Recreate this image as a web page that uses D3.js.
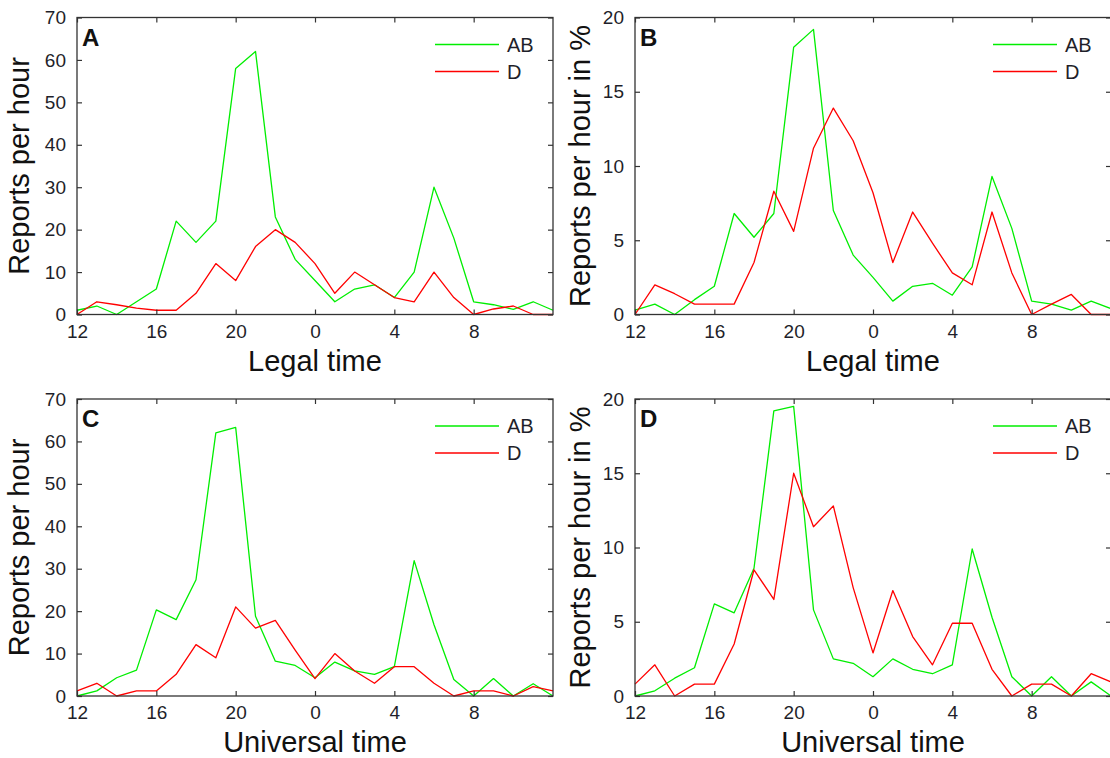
<!DOCTYPE html>
<html lang="en">
<head>
<meta charset="UTF-8">
<title>Reports per hour</title>
<script src="https://d3js.org/d3.v7.min.js"></script>
<style>
  body { margin: 0; background: #fff; }
  svg { font-family: "Liberation Sans", Arial, sans-serif; }
  .tick-label { font-size: 19px; fill: #1f1f2a; }
  .axis-title { font-size: 29px; fill: #111; }
  .panel-letter { font-size: 24px; font-weight: bold; fill: #111; }
  .legend-text { font-size: 20px; fill: #1f1f2a; }
</style>
</head>
<body>
<div id="chart"></div>
<script>
// hours 12 .. 36 (36 = noon next day)
var hours = d3.range(12, 37);
var xTicks = [12, 16, 20, 24, 28, 32];

// A: legal time, counts
var abLegal = [1, 2, 0, 3, 6, 22, 17, 22, 58, 62, 23, 13, 8, 3, 6, 7, 4, 10, 30, 18, 3, 2.3, 1.2, 3, 1];
var dLegal  = [0, 3, 2.3, 1.5, 1, 1, 5, 12, 8, 16, 20, 17, 12, 5, 10, 7, 4, 3, 10, 4, 0, 1.3, 2, 0, 0];
// B: legal time, percent
var abLegalPct = [0.3, 0.7, 0, 1.0, 1.9, 6.8, 5.2, 6.8, 18.0, 19.2, 7.0, 4.0, 2.5, 0.9, 1.9, 2.1, 1.3, 3.2, 9.3, 5.8, 0.9, 0.7, 0.3, 0.9, 0.4];
var dLegalPct  = [0, 2.0, 1.4, 0.7, 0.7, 0.7, 3.5, 8.3, 5.6, 11.2, 13.9, 11.7, 8.2, 3.5, 6.9, 4.8, 2.8, 2.0, 6.9, 2.8, 0, 0.7, 1.35, 0, 0];
// C: universal time, counts
var abUniv = [0, 1.2, 4.3, 6.1, 20.3, 18, 27.4, 62, 63.3, 18.8, 8.2, 7.2, 4.3, 8, 5.9, 5.1, 6.9, 31.9, 16.8, 3.9, 0, 4.1, 0, 2.9, 0];
var dUniv  = [1.2, 3, 0, 1.2, 1.2, 5.1, 12.1, 9, 21, 16, 17.8, 10.8, 4.1, 10, 5.9, 3, 6.9, 6.9, 3, 0, 1.2, 1.2, 0, 2.2, 1.2];
// D: universal time, percent
var abUnivPct = [0, 0.35, 1.2, 1.9, 6.2, 5.6, 8.6, 19.2, 19.5, 5.8, 2.5, 2.2, 1.3, 2.5, 1.8, 1.5, 2.1, 9.9, 5.3, 1.3, 0, 1.3, 0, 0.95, 0];
var dUnivPct  = [0.8, 2.1, 0, 0.8, 0.8, 3.5, 8.5, 6.5, 15.0, 11.4, 12.8, 7.3, 2.9, 7.1, 4.0, 2.1, 4.9, 4.9, 1.8, 0, 0.8, 0.8, 0, 1.5, 0.95];

var countTicks = [0, 10, 20, 30, 40, 50, 60, 70];
var pctTicks = [0, 5, 10, 15, 20];

var seriesNames = ["AB", "D"];
var seriesColors = ["#00ee00", "#ff0000"];

var panels = [
  { letter: "A", left: 77,  top: 17.5, yMax: 70, yTicks: countTicks, ab: abLegal,    d: dLegal,    xTitle: "Legal time",     yTitle: "Reports per hour" },
  { letter: "B", left: 635, top: 17.5, yMax: 20, yTicks: pctTicks,   ab: abLegalPct, d: dLegalPct, xTitle: "Legal time",     yTitle: "Reports per hour in %" },
  { letter: "C", left: 77,  top: 399,  yMax: 70, yTicks: countTicks, ab: abUniv,     d: dUniv,     xTitle: "Universal time", yTitle: "Reports per hour" },
  { letter: "D", left: 635, top: 399,  yMax: 20, yTicks: pctTicks,   ab: abUnivPct,  d: dUnivPct,  xTitle: "Universal time", yTitle: "Reports per hour in %" }
];

var plotW = 476, plotH = 297, tickLen = 5;

var svg = d3.select("#chart").append("svg")
  .attr("width", 1110)
  .attr("height", 758);

panels.forEach(function(p) {
  var g = svg.append("g").attr("transform", `translate(${p.left},${p.top})`);

  var x = d3.scaleLinear().domain([12, 36]).range([0, plotW]);
  var y = d3.scaleLinear().domain([0, p.yMax]).range([plotH, 0]);

  // lines
  var line = d3.line().x((d, i) => x(hours[i])).y(d => y(d));
  [p.ab, p.d].forEach(function(vals, k) {
    g.append("path")
      .datum(vals)
      .attr("d", line)
      .attr("fill", "none")
      .attr("stroke", seriesColors[k])
      .attr("stroke-width", 1.3)
      .attr("stroke-linejoin", "round");
  });

  // axes: bottom labels, inward ticks on all sides
  var xBottom = d3.axisBottom(x).tickValues(xTicks).tickSizeInner(-tickLen).tickSizeOuter(0)
    .tickFormat(d => d % 24).tickPadding(10);
  var xTop = d3.axisTop(x).tickValues(xTicks).tickSizeInner(-tickLen).tickSizeOuter(0).tickFormat("");
  var yLeft = d3.axisLeft(y).tickValues(p.yTicks).tickSizeInner(-tickLen).tickSizeOuter(0).tickPadding(11);
  var yRight = d3.axisRight(y).tickValues(p.yTicks).tickSizeInner(-tickLen).tickSizeOuter(0).tickFormat("");

  [
    g.append("g").attr("transform", `translate(0,${plotH})`).call(xBottom),
    g.append("g").call(xTop),
    g.append("g").call(yLeft),
    g.append("g").attr("transform", `translate(${plotW},0)`).call(yRight)
  ].forEach(function(a) {
    a.select(".domain").remove();
    a.selectAll("line").attr("stroke", "#333").attr("stroke-width", 1.2);
    a.selectAll("text").attr("class", "tick-label").attr("font-family", null).attr("font-size", null).attr("fill", null);
  });

  // box
  g.append("rect")
    .attr("width", plotW).attr("height", plotH)
    .attr("fill", "none").attr("stroke", "#333").attr("stroke-width", 1.3);

  // panel letter
  g.append("text").attr("class", "panel-letter")
    .attr("x", 5).attr("y", 28).text(p.letter);

  // legend
  var lg = g.append("g").attr("transform", `translate(${plotW - 118},0)`);
  seriesNames.forEach(function(name, k) {
    var ly = 27 + k * 27;
    lg.append("line").attr("x1", 0).attr("x2", 64).attr("y1", ly).attr("y2", ly)
      .attr("stroke", seriesColors[k]).attr("stroke-width", 1.3);
    lg.append("text").attr("class", "legend-text").attr("x", 72).attr("y", ly + 7).text(name);
  });

  // titles
  g.append("text").attr("class", "axis-title")
    .attr("x", plotW / 2).attr("y", plotH + 56)
    .attr("text-anchor", "middle").text(p.xTitle);

  g.append("text").attr("class", "axis-title")
    .attr("transform", `translate(${p.left === 77 ? -48 : -45},${plotH / 2}) rotate(-90)`)
    .attr("text-anchor", "middle").text(p.yTitle);
});
</script>
</body>
</html>
